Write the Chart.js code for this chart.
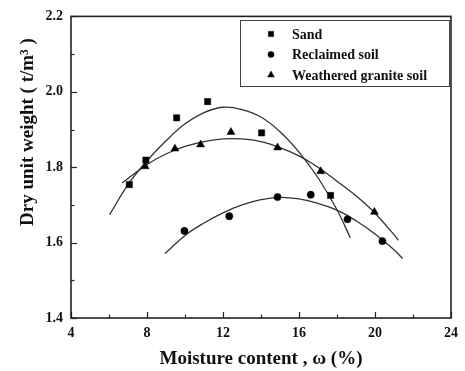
<!DOCTYPE html>
<html><head><meta charset="utf-8">
<script src="https://cdn.jsdelivr.net/npm/chart.js@4/dist/chart.umd.min.js"></script>
<style>html,body{margin:0;padding:0;background:#fff}#wrap{width:465px;height:371px}</style>
</head><body><div id="wrap"><canvas id="c" width="465" height="371"></canvas></div>
<script>
const seriesNames = ['Sand', 'Reclaimed soil', 'Weathered granite soil'];
const sandX = [7.07, 7.94, 9.56, 11.19, 14.03, 17.66];
const sandY = [1.754, 1.819, 1.931, 1.974, 1.891, 1.725];
const reclaimedX = [9.97, 12.33, 14.87, 16.62, 18.55, 20.39];
const reclaimedY = [1.631, 1.670, 1.721, 1.727, 1.662, 1.604];
const graniteX = [7.90, 9.47, 10.82, 12.42, 14.87, 17.14, 19.97];
const graniteY = [1.802, 1.849, 1.860, 1.893, 1.852, 1.789, 1.681];
// fitted curves
const sandFitX = [6.03, 7, 8, 9, 10, 11, 12, 13, 14, 15, 16, 17, 18, 18.7];
const sandFitY = [1.674, 1.754, 1.817, 1.870, 1.915, 1.945, 1.959, 1.953, 1.933, 1.894, 1.840, 1.772, 1.687, 1.613];
const graniteFitX = [6.69, 8, 9, 10, 11, 12, 13, 14, 15, 16, 17, 18, 19, 20, 21, 21.22];
const graniteFitY = [1.758, 1.807, 1.835, 1.855, 1.868, 1.875, 1.875, 1.868, 1.852, 1.830, 1.800, 1.763, 1.724, 1.678, 1.621, 1.606];
const reclaimedFitX = [8.95, 10, 11, 12, 13, 14, 15, 16, 17, 18, 19, 20, 21, 21.45];
const reclaimedFitY = [1.571, 1.619, 1.652, 1.679, 1.700, 1.714, 1.720, 1.716, 1.704, 1.686, 1.658, 1.623, 1.581, 1.558];
const xMajor = [4, 8, 12, 16, 20, 24];
const xMinor = [6, 10, 14, 18, 22];
const yMajor = [1.4, 1.6, 1.8, 2.0, 2.2];
const yMinor = [1.5, 1.7, 1.9, 2.1];
const xTitle = 'Moisture content , \u03c9 (%)';
const yTitle = 'Dry unit weight ( t/m\u00b3 )';

const SERIF = '"Liberation Serif", "Times New Roman", serif';
const pts = (xs, ys) => xs.map((x, i) => ({x: x, y: ys[i]}));
const marker = (label, xs, ys, style, r) => ({
  label: label, data: pts(xs, ys), pointStyle: style, pointRadius: r,
  backgroundColor: '#000', borderColor: '#000', borderWidth: 0.5, showLine: false
});
const fit = (xs, ys) => ({
  label: '', data: pts(xs, ys), showLine: true, pointRadius: 0, borderColor: '#333',
  borderWidth: 1.3, tension: 0.4, fill: false
});

const markers = [
  marker(seriesNames[0], sandX, sandY, 'rect', 4.4),
  marker(seriesNames[1], reclaimedX, reclaimedY, 'circle', 3.6),
  marker(seriesNames[2], graniteX, graniteY, 'triangle', 4.6)
];

const decor = {
  id: 'decor',
  afterDraw(chart) {
    const ctx = chart.ctx, a = chart.chartArea, x = chart.scales.x, y = chart.scales.y;
    ctx.save();
    ctx.strokeStyle = '#222';
    ctx.lineWidth = 1.2;
    const ln = (x1, y1, x2, y2) => { ctx.beginPath(); ctx.moveTo(x1, y1); ctx.lineTo(x2, y2); ctx.stroke(); };
    xMajor.forEach(v => { const p = Math.round(x.getPixelForValue(v)) + 0.5; ln(p, a.bottom, p, a.bottom - 6); });
    xMinor.forEach(v => { const p = Math.round(x.getPixelForValue(v)) + 0.5; ln(p, a.bottom, p, a.bottom - 3.5); });
    yMajor.forEach(v => { const p = Math.round(y.getPixelForValue(v)) + 0.5; ln(a.left, p, a.left + 6, p); });
    yMinor.forEach(v => { const p = Math.round(y.getPixelForValue(v)) + 0.5; ln(a.left, p, a.left + 3.5, p); });
    ctx.lineWidth = 1.6;
    ctx.strokeRect(a.left, a.top, a.right - a.left, a.bottom - a.top);
    // legend
    ctx.lineWidth = 1;
    ctx.strokeStyle = '#444';
    ctx.strokeRect(240.5, 20.5, 209, 66);
    ctx.font = 'bold 14px ' + SERIF;
    ctx.textBaseline = 'middle';
    ctx.textAlign = 'left';
    markers.forEach((d, i) => {
      const yy = 34 + i * 20.5;
      ctx.fillStyle = '#000';
      ctx.strokeStyle = '#000';
      ctx.lineWidth = 0.5;
      Chart.helpers.drawPoint(ctx, {pointStyle: d.pointStyle, radius: d.pointRadius * 0.85, borderWidth: 0.5}, 271, yy);
      ctx.fillStyle = '#111';
      ctx.fillText(d.label, 292, yy + 1);
    });
    // y title
    ctx.translate(28, 132);
    ctx.rotate(-Math.PI / 2);
    ctx.textAlign = 'center';
    ctx.font = 'bold 19px ' + SERIF;
    ctx.fillText(yTitle, 0, 0);
    ctx.restore();
  }
};

new Chart(document.getElementById('c'), {
  type: 'scatter',
  data: {
    datasets: markers.concat([
      fit(sandFitX, sandFitY),
      fit(reclaimedFitX, reclaimedFitY),
      fit(graniteFitX, graniteFitY)
    ])
  },
  options: {
    responsive: false,
    devicePixelRatio: 1,
    animation: false,
    layout: {padding: {top: 15, right: 10, left: 0, bottom: 0}},
    plugins: {legend: {display: false}, tooltip: {enabled: false}},
    scales: {
      x: {
        type: 'linear', min: 4, max: 24,
        afterBuildTicks: s => { s.ticks = xMajor.map(v => ({value: v})); },
        afterFit: s => { s.height = 53; },
        grid: {display: false, drawTicks: false},
        border: {display: false},
        ticks: {font: {family: SERIF, size: 14, weight: 'bold'}, color: '#111', padding: 7, maxRotation: 0, autoSkip: false,
          callback: v => String(v)},
        title: {display: true, text: xTitle, color: '#111', font: {family: SERIF, size: 19, weight: 'bold'}, padding: {top: 0, bottom: 1}}
      },
      y: {
        type: 'linear', min: 1.4, max: 2.2,
        afterBuildTicks: s => { s.ticks = yMajor.map(v => ({value: v})); },
        afterFit: s => { s.width = 71; },
        grid: {display: false, drawTicks: false},
        border: {display: false},
        ticks: {font: {family: SERIF, size: 14, weight: 'bold'}, color: '#111', padding: 8, autoSkip: false,
          callback: v => Number(v).toFixed(1)}
      }
    }
  },
  plugins: [decor]
});
</script>
</body></html>
